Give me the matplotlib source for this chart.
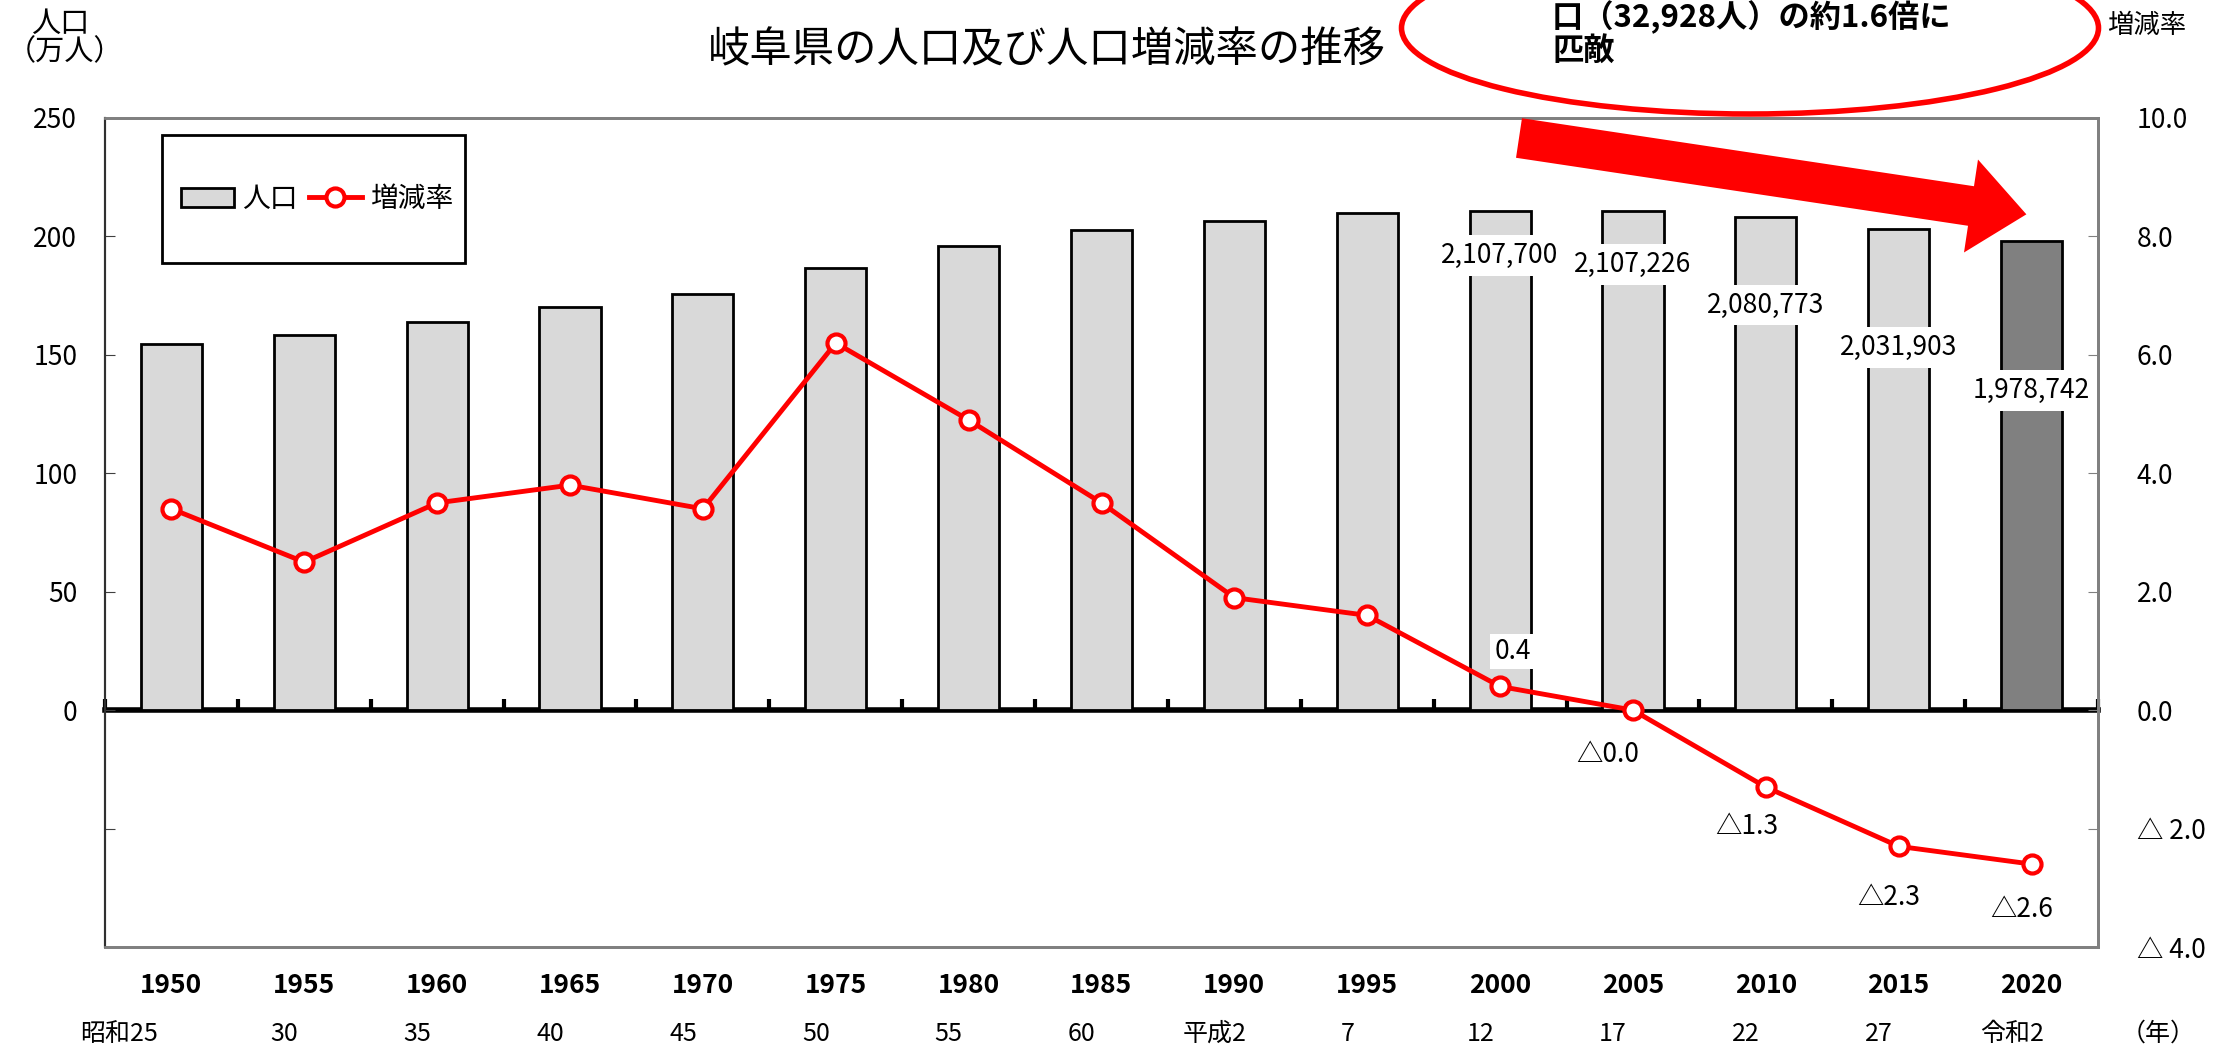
import numpy as np
import matplotlib.pyplot as plt
from matplotlib.patches import Ellipse, FancyArrow, Rectangle
from matplotlib.transforms import IdentityTransform

plt.rcParams['font.family'] = ['Liberation Sans Narrow', 'Noto Sans CJK JP', 'DejaVu Sans']
JP = ['Noto Sans CJK JP', 'DejaVu Sans']

# data
years = ['1950', '1955', '1960', '1965', '1970', '1975', '1980', '1985',
         '1990', '1995', '2000', '2005', '2010', '2015', '2020']
era_labels = ['昭和25', '30', '35', '40', '45', '50', '55', '60',
              '平成2', '7', '12', '17', '22', '27', '令和2']
population = [1544538, 1583605, 1638399, 1700365, 1758954, 1867978, 1960107, 2028536,
              2066569, 2100315, 2107700, 2107226, 2080773, 2031903, 1978742]
rate = [3.4, 2.5, 3.5, 3.8, 3.4, 6.2, 4.9, 3.5, 1.9, 1.6, 0.4, -0.0, -1.3, -2.3, -2.6]
rate_labels = ['0.4', '△0.0', '△1.3', '△2.3', '△2.6']
right_ticks = ['△ 4.0', '△ 2.0', '0.0', '2.0', '4.0', '6.0', '8.0', '10.0']

# label placement (万人 on left scale) for the last five bars
pop_label_y = [192, 188, 171, 153, 135]
rate_offsets = [(9, 25), (-18, -32), (-14, -28), (-7, -37), (-7, -33)]

W, H = 2226, 1050
fig = plt.figure(figsize=(W / 100, H / 100), dpi=100)
ax1 = fig.add_axes([105 / W, 1 - 947 / H, (2098 - 105) / W, (947 - 118) / H])

x = np.arange(len(years))
bar_colors = ['#D9D9D9'] * (len(years) - 1) + ['#808080']
ax1.bar(x, np.array(population) / 10000, width=0.46, color=bar_colors,
        edgecolor='black', linewidth=2, label='人口', zorder=2)
ax1.set_xlim(-0.5, len(years) - 0.5)
ax1.set_ylim(-100, 250)
ax1.set_yticks(np.arange(-100, 251, 50),
               labels=['', ''] + [str(v) for v in range(0, 251, 50)])
ax1.tick_params(axis='y', direction='in', length=7, color='#404040',
                labelsize=19, pad=20)
ax1.set_xticks(x, labels=years)
ax1.tick_params(axis='x', length=0, labelsize=19, pad=18)
for t in ax1.get_xticklabels():
    t.set_fontweight('bold')

# era labels under the years
for i, lab in enumerate(era_labels):
    if i == 0:
        ax1.text(x[i] - 0.1, -0.105, lab, ha='right', va='center', fontsize=18,
                 transform=ax1.get_xaxis_transform(), family=JP)
    else:
        ax1.text(x[i] - 0.15, -0.105, lab, ha='center', va='center', fontsize=18,
                 transform=ax1.get_xaxis_transform(), family=JP)
ax1.text(14.95, -0.105, '（年）', ha='center', va='center', fontsize=18,
         transform=ax1.get_xaxis_transform(), family=JP)

# thick zero line with small upward ticks at category boundaries
zero = ax1.secondary_xaxis(0, transform=ax1.transData)
zero.set_xticks(np.arange(-0.5, len(years), 1), labels=[])
zero.tick_params(direction='in', length=8, width=3, color='black')
zero.spines['bottom'].set_linewidth(4)
zero.spines['bottom'].set_color('black')

for k, i in enumerate(range(10, 15)):
    ax1.text(x[i], pop_label_y[k], f'{population[i]:,}', ha='center', va='center',
             fontsize=19, zorder=4,
             bbox=dict(facecolor='white', edgecolor='none', pad=5))

ax2 = ax1.twinx()
ax2.plot(x, rate, color='#FF0000', lw=3.5, marker='o', ms=13, mfc='white',
         mec='#FF0000', mew=3, label='増減率', zorder=3)
ax2.set_ylim(-4, 10)
ax2.set_yticks(np.arange(-4, 11, 2), labels=right_ticks)
ax2.tick_params(axis='y', direction='in', length=7, color='#808080',
                labelsize=19, pad=28)

for k, i in enumerate(range(10, 15)):
    bb = dict(facecolor='white', edgecolor='none', pad=3) if k == 0 else None
    ax2.annotate(rate_labels[k], (x[i], rate[i]), xytext=rate_offsets[k],
                 textcoords='offset points', ha='center', va='center',
                 fontsize=19, bbox=bb)

for ax in (ax1, ax2):
    for side in ('top', 'right', 'bottom'):
        ax.spines[side].set_color('#808080')
        ax.spines[side].set_linewidth(2)
    ax.spines['left'].set_color('#303030')
    ax.spines['left'].set_linewidth(1.5)

# legend in a hand-drawn box
h1, l1 = ax1.get_legend_handles_labels()
h2, l2 = ax2.get_legend_handles_labels()
leg = ax2.legend(h1 + h2, l1 + l2, loc='center left', ncol=2, frameon=False,
                 bbox_to_anchor=(170 / W, 1 - 199 / H), bbox_transform=fig.transFigure,
                 handlelength=1.9, handletextpad=0.3, columnspacing=0.4,
                 borderaxespad=0, prop={'family': JP, 'size': 20})
fig.add_artist(Rectangle((162 / W, 1 - 263 / H), 303 / W, 128 / H,
                         transform=fig.transFigure, fill=False,
                         edgecolor='black', lw=2))

# titles and axis captions
fig.text(1047 / W, 1 - 50 / H, '岐阜県の人口及び人口増減率の推移', ha='center',
         va='center', fontsize=30.5, family=JP)
fig.text(60 / W, 1 - 24 / H, '人口', ha='center', va='center', fontsize=21, family=JP)
fig.text(7 / W, 1 - 52 / H, '（万人）', ha='left', va='center', fontsize=21, family=JP)
fig.text(2147 / W, 1 - 25 / H, '増減率', ha='center', va='center', fontsize=19, family=JP)

# callout ellipse and arrow
fig.add_artist(Ellipse((1750 / W, 1 - 28 / H), 697 / W, 172 / H,
                       transform=fig.transFigure, fill=False,
                       edgecolor='#FF0000', lw=4))
fig.text(1552 / W, 1 - 17 / H, '口（32,928人）の約1.6倍に', ha='left', va='center',
         fontsize=22.5, weight='bold', family=JP)
fig.text(1552 / W, 1 - 52 / H, '匹敵', ha='left', va='center',
         fontsize=22.5, weight='bold', family=JP)
fig.add_artist(FancyArrow(1519, H - 138, 452, -68, width=40, head_width=94,
                          head_length=56, color='#FF0000', lw=0,
                          transform=IdentityTransform()))

fig.savefig('out.png', dpi=100)
